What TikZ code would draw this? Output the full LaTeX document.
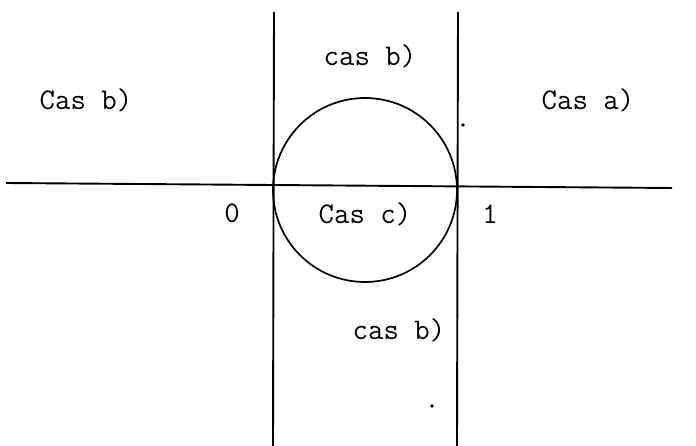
\documentclass[tikz,border=0pt]{standalone}
\usepackage{tikz}

\begin{document}
\begin{tikzpicture}[x=1pt, y=-1pt]
        % Fix the frame of the picture
        \useasboundingbox (0,0) rectangle (696,446);

        % Define the ends of the axes
        \coordinate (h1) at (6, 183);    % Left end of the real axis
        \coordinate (h2) at (672, 188);  % Right end of the real axis
        \coordinate (v1) at (274, 12);   % Top of the line through 0
        \coordinate (v2) at (273, 446);  % Bottom of the line through 0
        \coordinate (w1) at (458, 12);   % Top of the line through 1
        \coordinate (w2) at (457, 446);  % Bottom of the line through 1
        \coordinate (c) at (365, 190);   % Centre of the circle

        % Draw the real axis and the two vertical lines
        \draw[line width=1.9pt, black] (h1) -- (h2);
        \draw[line width=1.9pt, black] (v1) -- (v2);
        \draw[line width=1.9pt, black] (w1) -- (w2);

        % Draw the circle through 0 and 1
        \draw[line width=1.7pt, black] (c) circle (92);

        % Label the regions
        \tikzset{lab/.style={font=\fontsize{30}{32}\selectfont\ttfamily}}
        \node[lab] (ctop) at (370, 56) {cas b)};
        \node[lab] (cleft) at (86, 100) {Cas b)};
        \node[lab] (cright) at (588, 100) {Cas a)};
        \node[lab] (cin) at (365, 214) {Cas c)};
        \node[lab] (cbot) at (399, 330) {cas b)};

        % Label the points 0 and 1
        \node[lab] (zero) at (232, 213) {0};
        \node[lab] (one) at (490, 214) {1};

        % Small dots
        \fill[black] (463, 125) circle (1.8pt);
        \fill[black] (432, 406) circle (1.8pt);
    \end{tikzpicture}
\end{document}
